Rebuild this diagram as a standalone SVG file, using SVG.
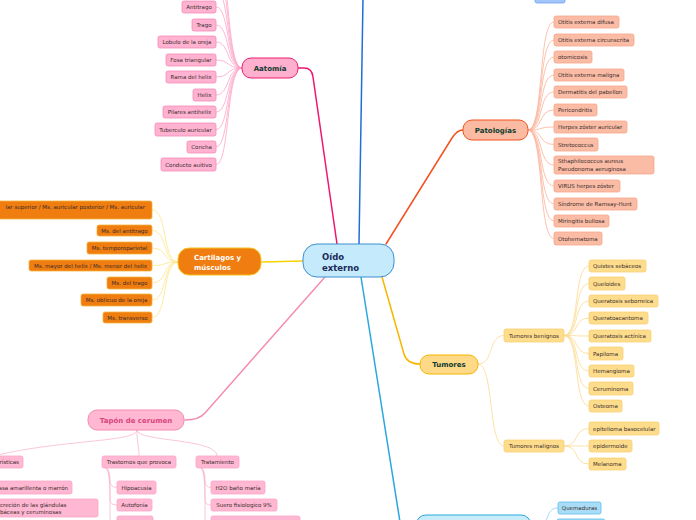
<svg xmlns="http://www.w3.org/2000/svg" width="696" height="520" viewBox="0 0 696 520">
<style>
text{font-family:"DejaVu Sans",Verdana,sans-serif;}
.c{font-size:5.5px;fill:#3a2c2c;}
.m{text-anchor:middle;}
.e{text-anchor:end;}
.h{font-size:7px;font-weight:bold;fill:#0d3b2e;text-anchor:middle;}
.ln{fill:none;stroke-width:1.5;stroke-linecap:round;}
.sl{fill:none;stroke-width:0.8;}
.an{fill:#ffb3d1;stroke:#f48cb8;stroke-width:0.8;}
.ca{fill:#ef7d10;stroke:#f5b43a;stroke-width:0.8;}
.pa{fill:#fbbca6;stroke:#f8a68a;stroke-width:0.8;}
.tu{fill:#fddc8c;stroke:#f9d075;stroke-width:0.8;}
.tp{fill:#ffb7d2;stroke:#fca5c8;stroke-width:0.8;}
.qb{fill:#a8dcf7;stroke:#5bbde9;stroke-width:0.8;}
</style>
<rect width="696" height="520" fill="#ffffff"/>
<g id="connectors">
<path class="ln" stroke="#1f6fd6" d="M359,244 L363,-2"/>
<path class="ln" stroke="#f0156d" d="M337,244 L313,77 Q312,68 304,68 L298,68"/>
<path class="ln" stroke="#f4511e" d="M386,244 L452,138 Q457,130 463,130"/>
<path class="ln" stroke="#f5d300" d="M303,261 L262,262"/>
<path class="ln" stroke="#f48cb1" d="M325,277 L205,413 Q199,420 185,420"/>
<path class="ln" stroke="#f7b500" d="M382,277 L404,354 Q407,364 420,364"/>
<path class="ln" stroke="#29a8e0" d="M361,277 L400,522"/>
<g class="sl" stroke="#fca5c8">
<path d="M242,68 C226,68 230,-46 216,-46"/>
<path d="M242,68 C226,68 230,-28 216,-28"/>
<path d="M242,68 C226,68 230,-10 216,-10"/>
<path d="M242,68 C226,68 230,7 216,7"/>
<path d="M242,68 C226,68 230,25 216,25"/>
<path d="M242,68 C226,68 230,42 216,42"/>
<path d="M242,68 C226,68 230,60 216,60"/>
<path d="M242,68 C226,68 230,77 216,77"/>
<path d="M242,68 C226,68 230,95 216,95"/>
<path d="M242,68 C226,68 230,112 216,112"/>
<path d="M242,68 C226,68 230,129.5 216,129.5"/>
<path d="M242,68 C226,68 230,147 216,147"/>
<path d="M242,68 C226,68 230,164.5 216,164.5"/>
</g>
<g class="sl" stroke="#fde68a">
<path d="M178,262 C162,262 168,210 152,210"/>
<path d="M178,262 C162,262 168,230.5 152,230.5"/>
<path d="M178,262 C162,262 168,248 152,248"/>
<path d="M178,262 C162,262 168,265.5 152,265.5"/>
<path d="M178,262 C162,262 168,283 152,283"/>
<path d="M178,262 C162,262 168,300 152,300"/>
<path d="M178,262 C162,262 168,317.5 152,317.5"/>
</g>
<g class="sl" stroke="#fbb39a">
<path d="M528,130 C544,130 538,22 554,22"/>
<path d="M528,130 C544,130 538,40 554,40"/>
<path d="M528,130 C544,130 538,57 554,57"/>
<path d="M528,130 C544,130 538,75 554,75"/>
<path d="M528,130 C544,130 538,92 554,92"/>
<path d="M528,130 C544,130 538,110 554,110"/>
<path d="M528,130 C544,130 538,127 554,127"/>
<path d="M528,130 C544,130 538,144.5 554,144.5"/>
<path d="M528,130 C544,130 538,165 554,165"/>
<path d="M528,130 C544,130 538,186 554,186"/>
<path d="M528,130 C544,130 538,204 554,204"/>
<path d="M528,130 C544,130 538,221 554,221"/>
<path d="M528,130 C544,130 538,238.5 554,238.5"/>
</g>
<g class="sl" stroke="#fcd98f">
<path d="M478,364 C494,364 488,335.5 504,335.5"/>
<path d="M478,364 C494,364 488,446 504,446"/>
<path d="M564,335.5 C580,335.5 573,266 589,266"/>
<path d="M564,335.5 C580,335.5 573,283.5 589,283.5"/>
<path d="M564,335.5 C580,335.5 573,301 589,301"/>
<path d="M564,335.5 C580,335.5 573,318 589,318"/>
<path d="M564,335.5 C580,335.5 573,336 589,336"/>
<path d="M564,335.5 C580,335.5 573,353.5 589,353.5"/>
<path d="M564,335.5 C580,335.5 573,371 589,371"/>
<path d="M564,335.5 C580,335.5 573,388.5 589,388.5"/>
<path d="M564,335.5 C580,335.5 573,406 589,406"/>
<path d="M564,446 C580,446 573,428.5 589,428.5"/>
<path d="M564,446 C580,446 573,446 589,446"/>
<path d="M564,446 C580,446 573,464 589,464"/>
</g>
<g class="sl" stroke="#f9b7d0">
<path d="M137,430 C137,442 60,440 -2,455"/>
<path d="M137,430 C137,445 139,445 139,456"/>
<path d="M137,430 C137,442 217,438 217,456"/>
<path d="M106,468 Q110,470 110,480 Q110,487.5 117,487.5"/>
<path d="M106,468 Q110,470 110,490 L110,500 Q110,505 117,505"/>
<path d="M106,468 Q110,470 110,500 L110,518 Q110,523 117,523"/>
<path d="M201,468 Q205,470 205,480 Q205,487.5 211,487.5"/>
<path d="M201,468 Q205,470 205,490 L205,500 Q205,505 211,505"/>
<path d="M201,468 Q205,470 205,500 L205,518 Q205,523 211,523"/>
</g>
<g class="sl" stroke="#8fd0f0">
<path d="M540,535 C548,525 545,508 558,508"/>
<path d="M540,535 C548,530 548,524 557,524"/>
</g>
</g>
<g id="top-node"><rect x="535" y="-10" width="30" height="13" rx="2" fill="#a3c6fa" stroke="#6d9ef0" stroke-width="0.8"/></g>
<g id="center">
<rect x="303" y="244" width="91" height="33" rx="14" fill="#c5eafb" stroke="#3b8fd0" stroke-width="1"/>
<text x="322" y="260" font-size="8.5" font-weight="bold" fill="#1a2b5a">Oído</text>
<text x="322" y="271" font-size="8.5" font-weight="bold" fill="#1a2b5a">externo</text>
</g>
<g id="aatomia">
<rect x="242" y="58" width="56" height="20" rx="9" fill="#ffb0cf" stroke="#ee1c6f" stroke-width="1"/>
<text class="h" x="270" y="70.5">Aatomía</text>
</g>
<g id="aatomia-children">
<rect class="an" x="182" y="1" width="34" height="12" rx="2"/><text class="c m" x="199" y="9">Antitrago</text>
<rect class="an" x="192" y="19" width="24" height="12" rx="2"/><text class="c m" x="204" y="27">Trago</text>
<rect class="an" x="158" y="36" width="58" height="12" rx="2"/><text class="c m" x="187" y="44">Lobulo de la oreja</text>
<rect class="an" x="166" y="54" width="50" height="12" rx="2"/><text class="c m" x="191" y="62">Fosa triangular</text>
<rect class="an" x="166" y="71" width="50" height="12" rx="2"/><text class="c m" x="191" y="79">Rama del helix</text>
<rect class="an" x="193" y="89" width="23" height="12" rx="2"/><text class="c m" x="204.5" y="97">Helix</text>
<rect class="an" x="163" y="106" width="53" height="12" rx="2"/><text class="c m" x="189.5" y="114">Pilares antihelix</text>
<rect class="an" x="155" y="123" width="61" height="13" rx="2"/><text class="c m" x="185.5" y="131.5">Tuberculo auricular</text>
<rect class="an" x="187" y="141" width="29" height="12" rx="2"/><text class="c m" x="201.5" y="149">Concha</text>
<rect class="an" x="161" y="158" width="55" height="13" rx="2"/><text class="c m" x="188.5" y="166.5">Conducto auitivo</text>
</g>
<g id="cartilagos">
<rect x="178" y="248" width="83" height="27" rx="11" fill="#ef7d10" stroke="#f7c31c" stroke-width="1"/>
<text x="194" y="260" font-size="7" font-weight="bold" fill="#ffffff">Cartilagos y</text>
<text x="194" y="270" font-size="7" font-weight="bold" fill="#ffffff">músculos</text>
</g>
<g id="cartilagos-children">
<rect class="ca" x="-10" y="201" width="162" height="18" rx="2"/><text class="c e" x="145" y="209">lar superior / Ms. auricular posterior / Ms. auricular</text>
<rect class="ca" x="97" y="225" width="55" height="11" rx="2"/><text class="c m" x="124.5" y="232.5">Ms. del antitrago</text>
<rect class="ca" x="87" y="242" width="65" height="12" rx="2"/><text class="c m" x="119.5" y="250">Ms. temporoparietal</text>
<rect class="ca" x="29" y="260" width="123" height="11" rx="2"/><text class="c m" x="90.5" y="267.5">Ms. mayor del helix / Ms. menor del helix</text>
<rect class="ca" x="107" y="277" width="45" height="12" rx="2"/><text class="c m" x="129.5" y="285">Ms. del trago</text>
<rect class="ca" x="81" y="294" width="71" height="12" rx="2"/><text class="c m" x="116.5" y="302">Ms. oblicuo de la oreja</text>
<rect class="ca" x="103" y="312" width="49" height="11" rx="2"/><text class="c m" x="127.5" y="319.5">Ms. transverso</text>
</g>
<g id="patologias">
<rect x="463" y="120" width="65" height="20" rx="9" fill="#fbbba3" stroke="#f4511e" stroke-width="1"/>
<text class="h" x="495.5" y="132.5">Patologías</text>
</g>
<g id="patologias-children">
<rect class="pa" x="554" y="16" width="65" height="12" rx="2"/><text class="c" x="558" y="24">Otitis externa difusa</text>
<rect class="pa" x="554" y="34" width="80" height="12" rx="2"/><text class="c" x="558" y="42">Otitis externa circunscrita</text>
<rect class="pa" x="554" y="51" width="38" height="12" rx="2"/><text class="c" x="558" y="59">otomicosis</text>
<rect class="pa" x="554" y="69" width="70" height="12" rx="2"/><text class="c" x="558" y="77">Otitis externa maligna</text>
<rect class="pa" x="554" y="86" width="73" height="12" rx="2"/><text class="c" x="558" y="94">Dermatitis del pabellon</text>
<rect class="pa" x="554" y="104" width="43" height="12" rx="2"/><text class="c" x="558" y="112">Pericondritis</text>
<rect class="pa" x="554" y="121" width="73" height="12" rx="2"/><text class="c" x="558" y="129">Herpes zóster auricular</text>
<rect class="pa" x="554" y="138" width="44" height="13" rx="2"/><text class="c" x="558" y="146.5">Stretococcus</text>
<rect class="pa" x="554" y="156" width="100" height="18" rx="2"/><text class="c" x="558" y="163">Sthaphilococcus aureus</text><text class="c" x="558" y="170.5">Pseudonoma aeruginosa</text>
<rect class="pa" x="554" y="180" width="66" height="12" rx="2"/><text class="c" x="558" y="188">VIRUS herpes zóster</text>
<rect class="pa" x="554" y="198" width="83" height="12" rx="2"/><text class="c" x="558" y="206">Síndrome de Ramsay-Hunt</text>
<rect class="pa" x="554" y="215" width="55" height="12" rx="2"/><text class="c" x="558" y="223">Miringitis bullosa</text>
<rect class="pa" x="554" y="232" width="48" height="13" rx="2"/><text class="c" x="558" y="240.5">Otohematoma</text>
</g>
<g id="tumores">
<rect x="420" y="355" width="58" height="19" rx="9" fill="#fdd988" stroke="#f7b500" stroke-width="1"/>
<text class="h" x="449" y="367">Tumores</text>
</g>
<g id="tumores-children">
<rect class="tu" x="504" y="329" width="60" height="13" rx="2"/><text class="c" x="509" y="337.5">Tumores benignos</text>
<rect class="tu" x="504" y="440" width="60" height="12" rx="2"/><text class="c" x="509" y="448">Tumores malignos</text>
<rect class="tu" x="589" y="260" width="57" height="12" rx="2"/><text class="c" x="593" y="268">Quistes sebáceos</text>
<rect class="tu" x="589" y="277" width="36" height="13" rx="2"/><text class="c" x="593" y="285.5">Queloides</text>
<rect class="tu" x="589" y="295" width="69" height="12" rx="2"/><text class="c" x="593" y="303">Queratosis seborreica</text>
<rect class="tu" x="589" y="312" width="59" height="12" rx="2"/><text class="c" x="593" y="320">Queratoacantoma</text>
<rect class="tu" x="589" y="330" width="62" height="12" rx="2"/><text class="c" x="593" y="338">Queratosis actínica</text>
<rect class="tu" x="589" y="347" width="34" height="13" rx="2"/><text class="c" x="593" y="355.5">Papiloma</text>
<rect class="tu" x="589" y="365" width="45" height="12" rx="2"/><text class="c" x="593" y="373">Hemangioma</text>
<rect class="tu" x="589" y="382" width="44" height="13" rx="2"/><text class="c" x="593" y="390.5">Ceruminoma</text>
<rect class="tu" x="589" y="400" width="33" height="12" rx="2"/><text class="c" x="593" y="408">Osteoma</text>
<rect class="tu" x="589" y="422" width="70" height="13" rx="2"/><text class="c" x="593" y="430.5">epitelioma basocelular</text>
<rect class="tu" x="589" y="440" width="43" height="12" rx="2"/><text class="c" x="593" y="448">epidermoide</text>
<rect class="tu" x="589" y="458" width="37" height="12" rx="2"/><text class="c" x="593" y="466">Melanoma</text>
</g>
<g id="tapon">
<rect x="88" y="410" width="96" height="20" rx="9" fill="#ffb7d2" stroke="#f48cb1" stroke-width="1"/>
<text x="136" y="422.5" font-size="7" font-weight="bold" fill="#d9447d" text-anchor="middle">Tapón de cerumen</text>
</g>
<g id="tapon-children">
<rect class="tp" x="-20" y="456" width="43" height="12" rx="2"/><text class="c e" x="19" y="464">rísticas</text>
<rect class="tp" x="102" y="456" width="74" height="12" rx="2"/><text class="c m" x="139" y="464">Trastornos que provoca</text>
<rect class="tp" x="196" y="456" width="43" height="12" rx="2"/><text class="c m" x="217.5" y="464">Tratamiento</text>
<rect class="tp" x="-20" y="481" width="92" height="13" rx="2"/><text class="c e" x="68" y="489.5">asa amarillenta o marrón</text>
<rect class="tp" x="-20" y="499" width="118" height="18" rx="2"/><text class="c" x="0" y="506.5">creción de las glándulas</text><text class="c" x="0" y="514">báceas y ceruminosas</text>
<rect class="tp" x="117" y="481" width="39" height="13" rx="2"/><text class="c m" x="136.5" y="489.5">Hipoacusia</text>
<rect class="tp" x="117" y="499" width="35" height="12" rx="2"/><text class="c m" x="134.5" y="507">Autofonía</text>
<rect class="tp" x="117" y="516" width="36" height="13" rx="2"/>
<rect class="tp" x="211" y="481" width="54" height="13" rx="2"/><text class="c m" x="238" y="489.5">H2O baño maría</text>
<rect class="tp" x="211" y="499" width="66" height="12" rx="2"/><text class="c m" x="244" y="507">Suero fisiologico 9%</text>
<rect class="tp" x="211" y="516" width="89" height="13" rx="2"/>
</g>
<g id="bottom-node">
<rect x="416" y="515" width="115" height="30" rx="10" fill="#c9ecfb" stroke="#29a8e0" stroke-width="1"/>
</g>
<g id="bottom-children">
<rect class="qb" x="558" y="502" width="43" height="12" rx="2"/><text class="c m" x="579.5" y="510">Quemaduras</text>
<rect class="qb" x="557" y="519" width="48" height="12" rx="2"/>
</g>
</svg>
